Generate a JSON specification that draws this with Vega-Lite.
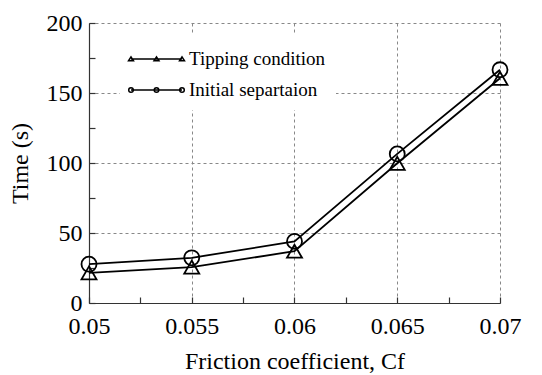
{
  "$schema": "https://vega.github.io/schema/vega-lite/v6.json",
  "width": 411,
  "height": 280,
  "autosize": {"type": "none"},
  "padding": {"left": 89, "top": 23, "right": 42, "bottom": 72},
  "background": "white",
  "config": {
    "view": {"stroke": null},
    "font": "'Liberation Serif', serif",
    "axis": {
      "domainColor": "#333",
      "domainWidth": 1.2,
      "tickColor": "#333",
      "tickWidth": 1.2,
      "tickSize": -6,
      "gridColor": "#888",
      "gridDash": [3, 3],
      "gridWidth": 1,
      "labelFont": "'Liberation Serif', serif",
      "labelFontSize": 24,
      "labelColor": "black",
      "titleFont": "'Liberation Serif', serif",
      "titleFontSize": 24,
      "titleFontWeight": "normal",
      "titleColor": "black"
    }
  },
  "data": {
    "values": [
      {"cf": 0.05, "time": 21.5, "series": "Tipping condition"},
      {"cf": 0.055, "time": 25.6, "series": "Tipping condition"},
      {"cf": 0.06, "time": 37, "series": "Tipping condition"},
      {"cf": 0.065, "time": 99.8, "series": "Tipping condition"},
      {"cf": 0.07, "time": 160.5, "series": "Tipping condition"},
      {"cf": 0.05, "time": 27.7, "series": "Initial separtaion"},
      {"cf": 0.055, "time": 32.3, "series": "Initial separtaion"},
      {"cf": 0.06, "time": 44, "series": "Initial separtaion"},
      {"cf": 0.065, "time": 106.5, "series": "Initial separtaion"},
      {"cf": 0.07, "time": 166.6, "series": "Initial separtaion"}
    ]
  },
  "encoding": {
    "x": {
      "field": "cf",
      "type": "quantitative",
      "scale": {"domain": [0.05, 0.07], "nice": false, "zero": false},
      "axis": {
        "title": "Friction coefficient, Cf",
        "values": [0.05, 0.0525, 0.055, 0.0575, 0.06, 0.0625, 0.065, 0.0675, 0.07],
        "format": "~g",
        "labelExpr": "abs(datum.value*200 - round(datum.value*200)) < 0.01 ? datum.label : ''",
        "gridOpacity": {"condition": {"test": "abs(datum.value*200 - round(datum.value*200)) < 0.01", "value": 1}, "value": 0},
        "labelPadding": 17,
        "titlePadding": 11,
        "labelFlush": false
      }
    },
    "y": {
      "field": "time",
      "type": "quantitative",
      "scale": {"domain": [0, 200], "nice": false},
      "axis": {
        "title": "Time (s)",
        "values": [0, 25, 50, 75, 100, 125, 150, 175, 200],
        "labelExpr": "datum.value % 50 == 0 ? datum.label : ''",
        "gridOpacity": {"condition": {"test": "datum.value % 50 == 0", "value": 1}, "value": 0},
        "labelPadding": 13,
        "titlePadding": 14
      }
    }
  },
  "layer": [
    {
      "mark": {"type": "line", "color": "black", "strokeWidth": 1.8},
      "encoding": {"detail": {"field": "series"}}
    },
    {
      "mark": {"type": "point", "filled": false, "color": "black", "strokeWidth": 1.8, "size": 225, "opacity": 1},
      "encoding": {
        "shape": {
          "field": "series",
          "type": "nominal",
          "scale": {"domain": ["Tipping condition", "Initial separtaion"], "range": ["triangle-up", "circle"]},
          "legend": null
        }
      }
    },
    {
      "mark": {"type": "point", "filled": false, "color": "black", "strokeWidth": 1.5, "opacity": 0},
      "encoding": {
        "shape": {
          "field": "series",
          "type": "nominal",
          "scale": {
            "domain": ["Tipping condition", "Initial separtaion"],
            "range": [
              "M-1,0L2.4,0M-1.167,0.12L-0.833,0.12L-1,-0.147ZM0.533,0.12L0.867,0.12L0.7,-0.147ZM2.233,0.12L2.567,0.12L2.4,-0.147Z",
              "M-1,0L2.4,0M-0.847,0A0.153,0.153 0 1,1 -1.153,0A0.153,0.153 0 1,1 -0.847,0ZM0.853,0A0.153,0.153 0 1,1 0.547,0A0.153,0.153 0 1,1 0.853,0ZM2.553,0A0.153,0.153 0 1,1 2.247,0A0.153,0.153 0 1,1 2.553,0Z"
            ]
          },
          "legend": {
            "title": null,
            "orient": "none",
            "legendX": 31,
            "legendY": 10,
            "padding": 10,
            "fillColor": "white",
            "strokeColor": null,
            "symbolSize": 900,
            "symbolOpacity": 1,
            "symbolStrokeColor": "black",
            "symbolStrokeWidth": 1.5,
            "symbolFillColor": "transparent",
            "labelFont": "'Liberation Serif', serif",
            "labelFontSize": 19,
            "labelColor": "black",
            "labelOffset": 27,
            "rowPadding": 5,
            "labelLimit": 300
          }
        }
      }
    }
  ],
  "resolve": {"scale": {"shape": "independent"}, "legend": {"shape": "independent"}}
}
